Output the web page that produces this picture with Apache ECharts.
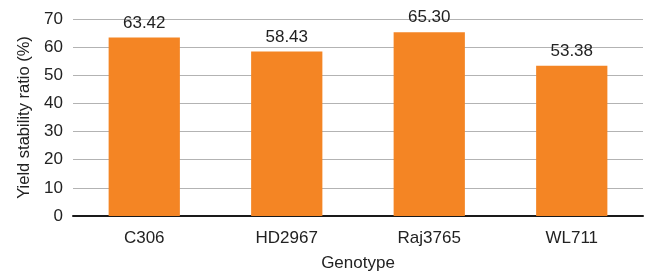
<!DOCTYPE html>
<html lang="en" style="height: 100%">
<head>
  <meta charset="utf-8">
  <script src="https://cdn.jsdelivr.net/npm/echarts@6/dist/echarts.min.js"></script>
</head>
<body style="height: 100%; margin: 0; background: #fff">
  <div id="container" style="width: 646px; height: 273px"></div>
  <script type="text/javascript">
    var genotypes = ['C306', 'HD2967', 'Raj3765', 'WL711'];
    var stabilityRatio = [63.42, 58.43, 65.30, 53.38];

    var font = 'Liberation Sans, Arial, sans-serif';
    var myChart = echarts.init(document.getElementById('container'), null, { renderer: 'canvas' });

    var option = {
      animation: false,
      grid: { left: 73, right: 3, top: 19, bottom: 57, outerBoundsMode: 'none' },
      xAxis: {
        type: 'category',
        data: genotypes,
        name: 'Genotype',
        nameLocation: 'middle',
        nameGap: 39,
        nameTextStyle: { fontFamily: font, fontSize: 17, color: '#222' },
        axisLine: { lineStyle: { color: '#1a1a1a', width: 2 } },
        axisTick: { show: false },
        axisLabel: { fontFamily: font, fontSize: 17, color: '#222', margin: 14 }
      },
      yAxis: {
        type: 'value',
        min: 0,
        max: 70,
        interval: 10,
        name: 'Yield stability ratio (%)',
        nameLocation: 'middle',
        nameGap: 40,
        nameTextStyle: { fontFamily: font, fontSize: 16.5, color: '#222' },
        axisLine: { show: false },
        axisTick: { show: false },
        axisLabel: { fontFamily: font, fontSize: 17, color: '#222', margin: 10 },
        splitLine: { lineStyle: { color: '#b3b3b3', width: 1 } }
      },
      series: [
        {
          type: 'bar',
          data: stabilityRatio,
          barWidth: '50%',
          itemStyle: { color: '#F48524' },
          label: {
            show: true,
            position: 'top',
            distance: 6,
            fontFamily: font,
            fontSize: 17,
            color: '#222',
            formatter: function (p) { return p.value.toFixed(2); }
          }
        }
      ]
    };

    myChart.setOption(option);
    window.addEventListener('resize', myChart.resize);
  </script>
</body>
</html>
